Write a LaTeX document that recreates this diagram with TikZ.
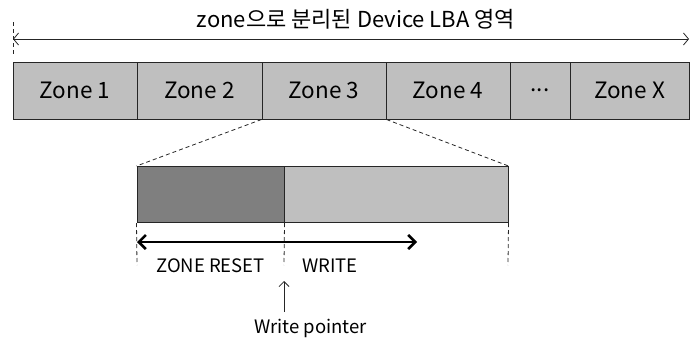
\documentclass[tikz,border=0pt]{standalone}
\usepackage{fontspec}
\setmainfont{Noto Sans CJK KR}
\usetikzlibrary{arrows.meta,calc}
\definecolor{zonefill}{HTML}{BFBFBF}
\definecolor{resetfill}{HTML}{7F7F7F}
\definecolor{edge}{HTML}{262626}
\begin{document}
\begin{tikzpicture}[x=1pt,y=-1pt,
  zonebox/.style={draw=edge,line width=1pt,fill=zonefill,inner sep=0pt,
    minimum height=57pt,font=\fontsize{22.5}{24}\selectfont},
  segbox/.style={draw=edge,line width=1pt,inner sep=0pt,minimum height=56pt},
  guide/.style={dashed,draw=edge,line width=0.8pt,dash pattern=on 4pt off 3pt},
  label/.style={inner sep=0pt,font=\fontsize{18.5}{20}\selectfont},
  barb/.style={Straight Barb[length=6pt,width=12pt]}]
\useasboundingbox (0,0) rectangle (690,340);

% title and span arrow
\node[inner sep=0pt,font=\fontsize{22}{24}\selectfont] (title) at (356,19) {zone으로 분리된 Device LBA 영역};
\coordinate (spanL) at (13,39);
\coordinate (spanR) at (689,39);
\coordinate (tickT) at (13,22);
\coordinate (tickB) at (13,54);
\draw[guide] (tickT) -- (tickB);
\draw[edge,line width=0.8pt,{Straight Barb[length=5pt,width=12pt]}-{Straight Barb[length=5pt,width=12pt]}] (spanL) -- (spanR);

% zone row
\node[zonebox,minimum width=124pt] (z1) at (75,90.5) {Zone 1};
\node[zonebox,minimum width=125pt] (z2) at (199.5,90.5) {Zone 2};
\node[zonebox,minimum width=124pt] (z3) at (324,90.5) {Zone 3};
\node[zonebox,minimum width=124pt] (z4) at (448,90.5) {Zone 4};
\node[zonebox,minimum width=60pt]  (zd) at (540,90.5) {...};
\node[zonebox,minimum width=119pt] (zx) at (629.5,90.5) {Zone X};

% enlarged zone
\node[segbox,fill=resetfill,minimum width=147pt] (reset) at (210.5,194.5) {};
\node[segbox,fill=zonefill,minimum width=224pt] (free) at (396,194.5) {};
\draw[guide] (z3.south west) -- (reset.north west);
\draw[guide] (z3.south east) -- (free.north east);

% extent markers below the zone
\coordinate (mL) at (137,265);
\coordinate (mM) at (284,265);
\coordinate (mR) at (508,265);
\draw[guide] (reset.south west) -- (mL);
\draw[guide] (reset.south east) -- (mM);
\draw[guide] (free.south east) -- (mR);

% reset / write range arrow
\coordinate (rangeL) at (137,242);
\coordinate (rangeR) at (417,242);
\draw[black,line width=2.6pt,{Straight Barb[length=7pt,width=14pt]}-{Straight Barb[length=7pt,width=14pt]}] (rangeL) -- (rangeR);

\node[label] (lreset) at (210.5,266) {ZONE RESET};
\node[label] (lwrite) at (330,266) {WRITE};

% write pointer
\node[label,anchor=west] (wp) at (254,328) {Write pointer};
\coordinate (wpB) at (284,312);
\coordinate (wpT) at (284,281);
\draw[edge,line width=0.8pt,-{Straight Barb[length=5pt,width=10pt]}] (wpB) -- (wpT);
\end{tikzpicture}
\end{document}
